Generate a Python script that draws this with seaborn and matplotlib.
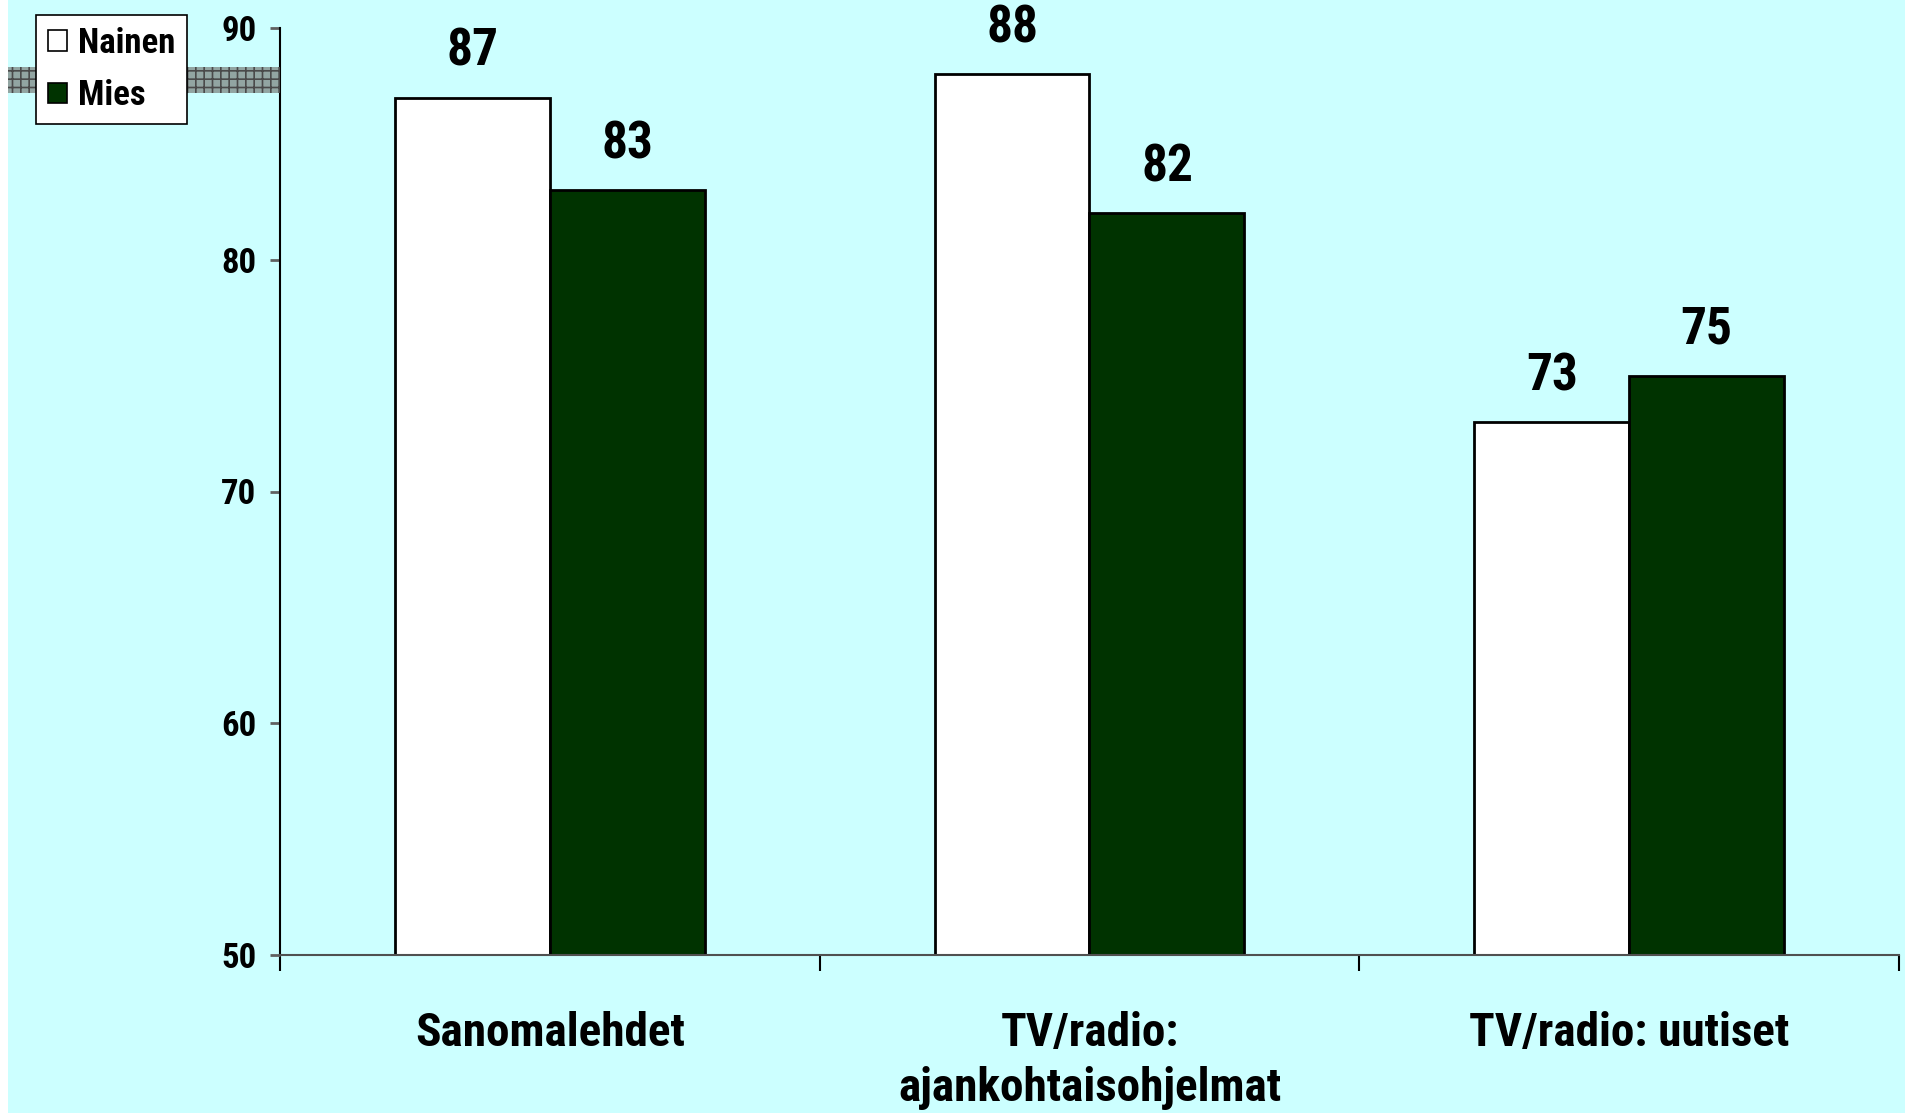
import matplotlib
matplotlib.use("Agg")
import matplotlib.pyplot as plt
import matplotlib.font_manager as fm
from matplotlib.patches import Patch, Rectangle
import seaborn as sns
import pandas as pd

categories = ["Sanomalehdet", "TV/radio:\najankohtaisohjelmat", "TV/radio: uutiset"]
series_names = ["Nainen", "Mies"]
nainen = [87, 88, 73]
mies = [83, 82, 75]
y_ticks = [50, 60, 70, 80, 90]

BG = "#CCFFFF"
GREEN = "#003300"

sns.set_theme(style="white")
avail = {f.name for f in fm.fontManager.ttflist}
fam = next((f for f in ["Liberation Sans Narrow", "Arial Narrow", "Roboto Condensed", "Liberation Sans"] if f in avail), "DejaVu Sans")
plt.rcParams["font.family"] = [fam, "DejaVu Sans"]
plt.rcParams["hatch.linewidth"] = 1.2
plt.rcParams["hatch.color"] = "#4a4a4a"
plt.rcParams["text.color"] = "black"
plt.rcParams["xtick.labelcolor"] = "black"
plt.rcParams["ytick.labelcolor"] = "black"

df = pd.DataFrame({
    "cat": categories * 2,
    "sex": [series_names[0]] * 3 + [series_names[1]] * 3,
    "value": nainen + mies,
})

W, H = 1906, 1113
fig = plt.figure(figsize=(W / 100, H / 100), dpi=100, facecolor=BG)
fig.patches.append(Rectangle((0, 0), 8 / W, 1, transform=fig.transFigure, facecolor="white", edgecolor="none", zorder=0))
# gray hatched band at left
fig.patches.append(Rectangle((8 / W, 1 - 93 / H), (280 - 8) / W, 26 / H, transform=fig.transFigure,
                             facecolor="#92A5A2", edgecolor="#4a4a4a", hatch="++", linewidth=0, zorder=1))

ax = fig.add_axes([280 / W, 1 - 955 / H, (1899 - 280) / W, (955 - 28) / H])
ax.set_facecolor(BG)
ax.patch.set_alpha(0)

sns.barplot(data=df, x="cat", y="value", hue="sex", palette=["white", GREEN],
            edgecolor="black", linewidth=2, width=0.574, gap=0, ax=ax, legend=False,
            errorbar=None, saturation=1)

ax.set_ylim(50, 90)
ax.set_xlim(-0.5, 2.5)
ax.set_yticks(y_ticks)
ax.set_yticklabels([str(t) for t in y_ticks], fontsize=25, fontweight="bold", color="black")
ax.tick_params(axis="y", direction="out", length=7, width=2, color="#606060", pad=10, left=True)
ax.tick_params(axis="x", which="major", length=0, pad=40)
ax.set_xticks([-0.5, 0.5, 1.5, 2.5], minor=True)
ax.tick_params(axis="x", which="minor", direction="out", length=11.5, width=1.5, color="black", bottom=True)
for lbl in ax.get_xticklabels():
    lbl.set_fontsize(34)
    lbl.set_fontweight("bold")
    lbl.set_color("black")
    lbl.set_linespacing(1.32)
    lbl.set_verticalalignment("top")
ax.set_xlabel("")
ax.set_ylabel("")
for s in ["top", "right"]:
    ax.spines[s].set_visible(False)
ax.spines["left"].set_color("black")
ax.spines["left"].set_linewidth(1.5)
ax.spines["bottom"].set_color("#505050")
ax.spines["bottom"].set_linewidth(1.5)

for cont in ax.containers:
    ax.bar_label(cont, padding=15, fontsize=37, fontweight="bold", color="black")

handles = [Patch(facecolor="white", edgecolor="black", linewidth=1.2),
           Patch(facecolor=GREEN, edgecolor="black", linewidth=1.2)]
leg = fig.legend(handles, series_names, loc="upper left", bbox_to_anchor=(36 / W, 1 - 15 / H),
                 bbox_transform=fig.transFigure, prop={"weight": "bold", "size": 25},
                 handlelength=0.55, handleheight=0.55, handletextpad=0.3, labelspacing=0.55,
                 borderpad=0.35, borderaxespad=0, fancybox=False, framealpha=1, edgecolor="black")
leg.get_frame().set_linewidth(1.2)
leg.set_zorder(5)
for t in leg.get_texts():
    t.set_color("black")

fig.savefig("out.png", dpi=100, facecolor=BG)
